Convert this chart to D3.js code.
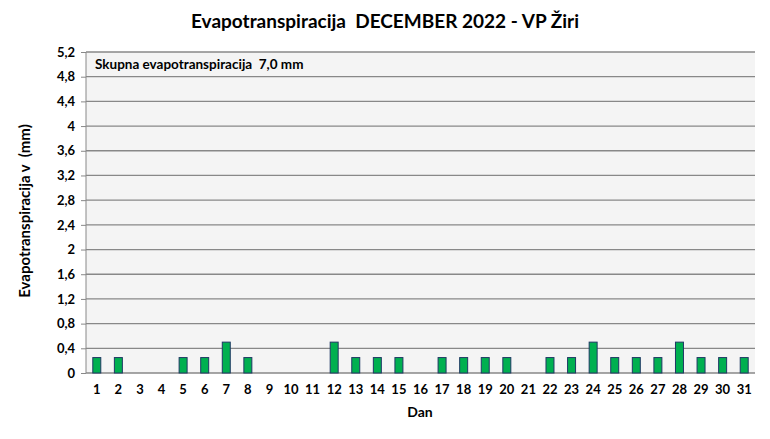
<!DOCTYPE html>
<html><head><meta charset="utf-8">
<script src="https://cdn.jsdelivr.net/npm/d3@7"></script>
<style>
body{margin:0;background:#fff;}
text{font-family:Lato,"Open Sans",sans-serif;font-weight:bold;fill:#000;white-space:pre;}
</style></head>
<body><svg id="c" width="770" height="439"></svg>
<script>
const days = d3.range(1,32).map(String);
const values = [0.25,0.25,0,0,0.25,0.25,0.5,0.25,0,0,0,0.5,0.25,0.25,0.25,0,0.25,0.25,0.25,0.25,0,0.25,0.25,0.5,0.25,0.25,0.25,0.5,0.25,0.25,0.25];
const yTicks = [0,0.4,0.8,1.2,1.6,2,2.4,2.8,3.2,3.6,4,4.4,4.8,5.2];
const title = "Evapotranspiracija  DECEMBER 2022 - VP Žiri";
const note = "Skupna evapotranspiracija  7,0 mm";

const svg = d3.select("#c");
const m = {l:86,r:755,t:52,b:373};
const x = d3.scaleBand().domain(days).range([m.l,m.r]).paddingInner(0.63).paddingOuter(0.315);
const y = d3.scaleLinear().domain([0,5.2]).range([m.b,m.t]);

svg.append("rect").attr("x",m.l).attr("y",m.t).attr("width",m.r-m.l).attr("height",m.b-m.t).attr("fill","#F4F4F4");

const ya = svg.append("g").attr("transform",`translate(${m.l},0)`)
  .call(d3.axisLeft(y).tickValues(yTicks).tickSize(5).tickPadding(6).tickFormat(d=>String(d).replace(".",",")));
ya.select(".domain").attr("stroke","#888").attr("d",`M0,${m.t}V${m.b}`);
ya.selectAll(".tick line").attr("stroke","#888");
ya.selectAll("text").style("font-size","13px");

svg.append("g").selectAll("line").data(yTicks).join("line")
  .attr("x1",m.l).attr("x2",m.r).attr("y1",d=>y(d)).attr("y2",d=>y(d))
  .attr("stroke","#888").attr("stroke-width",1.3);

svg.append("g").selectAll("rect").data(values).join("rect")
  .attr("x",(d,i)=>x(days[i])).attr("width",x.bandwidth())
  .attr("y",d=>y(d)).attr("height",d=>y(0)-y(d))
  .attr("fill",d=>d>0?"#00B050":"none").attr("stroke",d=>d>0?"#1F3864":"none").attr("stroke-width",1);

const xa = svg.append("g").attr("transform",`translate(0,${m.b})`)
  .call(d3.axisBottom(x).tickSize(0).tickPadding(12));
xa.select(".domain").remove();
xa.selectAll("text").style("font-size","13px");

svg.append("text").attr("x",385).attr("y",28).attr("text-anchor","middle").style("font-size","19px").text(title);
svg.append("text").attr("x",95).attr("y",69).style("font-size","13.5px").text(note);
svg.append("text").attr("x",420).attr("y",417).attr("text-anchor","middle").style("font-size","14px").text("Dan");
svg.append("text").attr("transform","translate(30,211) rotate(-90)").attr("text-anchor","middle").style("font-size","15px").text("Evapotranspiracija v  (mm)");
</script></body></html>
